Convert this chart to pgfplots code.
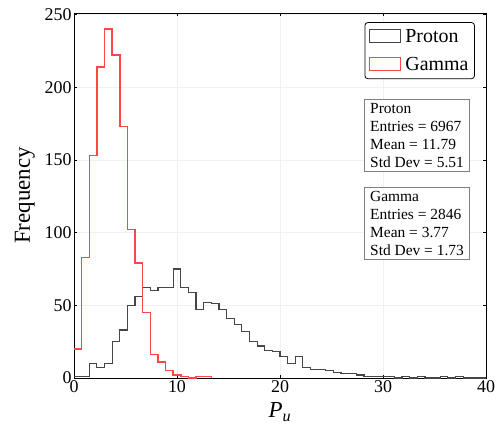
\documentclass[border=0pt]{standalone}
\usepackage{fontspec}
\setmainfont{Liberation Serif}
\usepackage{pgfplots}
\pgfplotsset{compat=1.18}
\definecolor{protc}{RGB}{70,70,70}
\definecolor{gamc}{RGB}{255,70,70}
\begin{document}
\begin{tikzpicture}
\begin{axis}[
  name=ax,
  scale only axis,
  width=412bp, height=365bp,
  xmin=0, xmax=40, ymin=0, ymax=251,
  xtick={0,10,20,30,40},
  ytick={0,50,100,150,200,250},
  /pgf/number format/assume math mode=true,
  tick label style={font=\fontsize{18}{20}\selectfont},
  xticklabel style={yshift=1bp},
  yticklabel style={xshift=1bp},
  major tick length=3bp,
  tick style={black, line width=0.6bp},
  axis line style={black, line width=0.8bp},
  grid=major,
  grid style={gray!12, line width=0.4bp},
  xlabel={{\itshape P}\textsubscript{\itshape u}},
  ylabel={Frequency},
  label style={font=\fontsize{23}{25}\selectfont},
  xlabel style={yshift=-3.5bp},
  ylabel style={yshift=3bp},
  legend style={at={(rel axis cs:0.973,0.975)}, anchor=north east, draw=black, line width=0.8bp,
    rounded corners=3bp, font=\fontsize{20}{22}\selectfont, inner xsep=4bp, inner ysep=5bp,
    nodes={inner xsep=2bp},
    cells={anchor=west}, row sep=9bp,
    /tikz/every odd column/.append style={column sep=2bp}},
  legend image code/.code={\draw[#1, sharp corners] (0bp,-6bp) rectangle (31bp,7bp);},
]
\addplot[const plot mark left, protc, line width=1.2bp] coordinates {
(0,1) (0.7407,1) (1.4815,10) (2.2222,7) (2.9630,10) (3.7037,25) (4.4444,33) (5.1852,50)
(5.9259,56) (6.6667,62) (7.4074,60) (8.1481,62) (8.8889,62) (9.6296,75) (10.3704,62)
(11.1111,59) (11.8519,47) (12.5926,52) (13.3333,51) (14.0741,47) (14.8148,41) (15.5556,37)
(16.2963,32) (17.0370,25) (17.7778,22) (18.5185,19) (19.2593,18) (20.0000,15) (20.7407,10)
(21.4815,15) (22.2222,7) (22.9630,6) (23.7037,6) (24.4444,5) (25.1852,4) (25.9259,3)
(26.6667,3) (27.4074,2) (28.1481,1) (28.8889,1) (29.6296,1) (30.3704,1) (31.1111,0)
(31.8519,1) (32.5926,0) (33.3333,1) (34.0741,0) (34.8148,0) (35.5556,1) (36.2963,0)
(37.0370,1) (37.7778,0) (38.5185,0) (39.2593,0) (40,0)
};
\addlegendentry{Proton}
\addplot[const plot mark left, gamc, line width=1.5bp] coordinates {
(0,20) (0.7407,83) (1.4815,153) (2.2222,214) (2.9630,240) (3.7037,222) (4.4444,173)
(5.1852,102) (5.9259,79) (6.6667,45) (7.4074,16) (8.1481,11) (8.8889,5) (9.6296,2)
(10.3704,1) (11.1111,0) (11.8519,1) (12.5926,1) (13.3333,0)
};
\addlegendentry{Gamma}
\node[anchor=north east, draw=gray, line width=0.8bp, fill=white, align=left,
  inner xsep=4bp, inner ysep=4bp, minimum width=105bp, font=\fontsize{15.5}{18}\selectfont] at (rel axis cs:0.961,0.764)
  {Proton\\Entries = 6967\\Mean = 11.79\\Std Dev = 5.51};
\node[anchor=north east, draw=gray, line width=0.8bp, fill=white, align=left,
  inner xsep=4bp, inner ysep=4bp, minimum width=105bp, font=\fontsize{15.5}{18}\selectfont] at (rel axis cs:0.961,0.523)
  {Gamma\\Entries = 2846\\Mean = 3.77\\Std Dev = 1.73};
\end{axis}
\pgfresetboundingbox
\path[use as bounding box] ([xshift=-74bp,yshift=-47bp]ax.south west) rectangle ([xshift=13bp,yshift=13bp]ax.north east);
\end{tikzpicture}
\end{document}
